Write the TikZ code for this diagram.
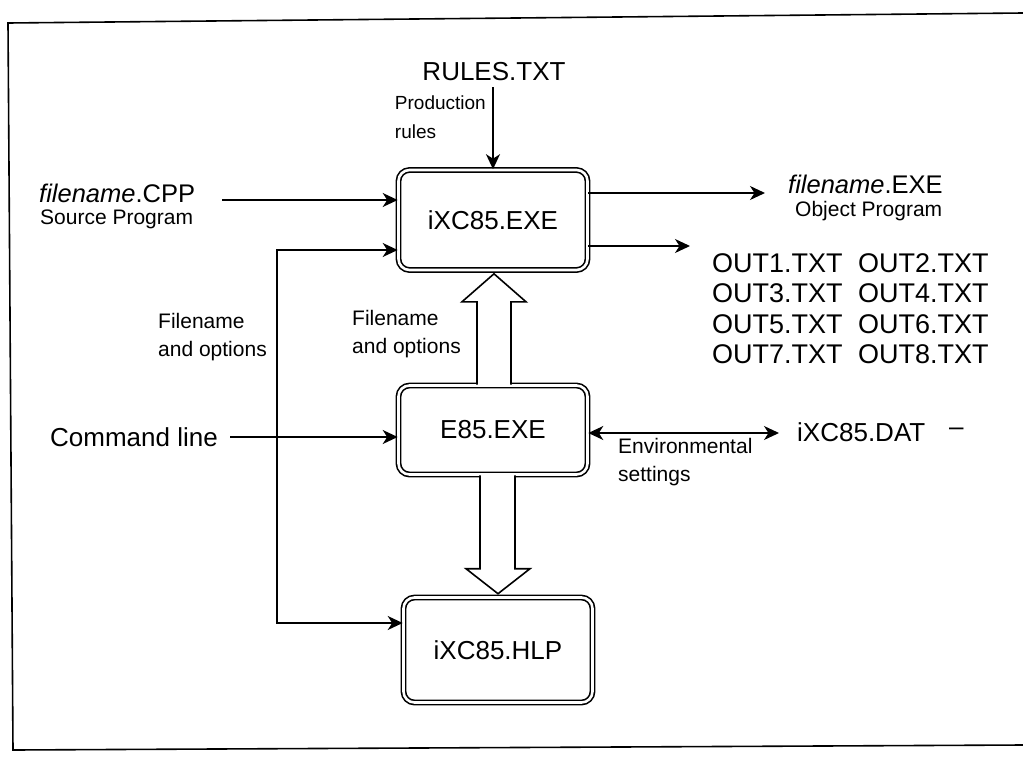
\documentclass[tikz,border=0pt]{standalone}
\usepackage{fontspec}
\setmainfont{Liberation Sans}
\usetikzlibrary{arrows.meta,calc}
\begin{document}
\begin{tikzpicture}[x=1pt,y=-1pt,
  tip/.tip={Stealth[length=15pt,width=14pt,inset=4.5pt]},
  arr/.style={line width=1.6pt,-tip},
  darr/.style={line width=1.6pt,tip-tip},
  box/.style={draw,double,line width=1.6pt,double distance=2.6pt,rounded corners=11pt,minimum width=189pt,font=\fontsize{26}{30}\selectfont,inner sep=0pt},
  big/.style={font=\fontsize{26}{30}\selectfont,inner sep=0pt,anchor=west},
  med/.style={font=\fontsize{25.5}{30}\selectfont,inner sep=0pt,anchor=west},
  outf/.style={font=\fontsize{27}{30}\selectfont,inner sep=0pt,anchor=west},
  small/.style={font=\fontsize{21}{28}\selectfont,inner sep=0pt,align=left,anchor=west},
  block/.style={draw,line width=1.6pt,fill=white,line join=miter}
]
\useasboundingbox (0,0) rectangle (1023,758);
% frame
\draw[line width=1.6pt] (1023,13) -- (8,23) -- (13,750) -- (1023,745);

% boxes
\node[box,minimum height=100pt] (exe) at (493,220) {iXC85.EXE};
\node[box,minimum height=89pt] (e85) at (493,430) {E85.EXE};
\node[box,minimum height=105pt] (hlp) at (498,650) {iXC85.HLP};

% rules
\node[big,anchor=center] (rules) at (494,72) {RULES.TXT};
\node[font=\fontsize{19}{29}\selectfont,inner sep=0pt,align=left,anchor=north east] (prod) at (486,96) {Production\\rules};
\draw[arr] (rules.south -| exe.north) ++(0,6) coordinate (rtop) -- (rtop |- exe.north);

% source program
\node[med] (cpp) at (39,193) {\textit{filename}.CPP};
\node[small] (src) at (40,219) {Source Program};
\coordinate (cppend) at (222,200);
\draw[arr] (cppend) -- (cppend -| exe.west);

% object program
\coordinate (objend) at (765,193);
\draw[arr] (objend -| exe.east) -- (objend);
\node[med] (obj) at (788,184) {\textit{filename}.EXE};
\node[small] (objp) at (795,211) {Object Program};
\coordinate (outend) at (690,246);
\draw[arr] (outend -| exe.east) -- (outend);

% output files
\node[outf] (o1) at (712,263) {OUT1.TXT};
\node[outf] (o2) at (858,263) {OUT2.TXT};
\node[outf] (o3) at (712,293) {OUT3.TXT};
\node[outf] (o4) at (858,293) {OUT4.TXT};
\node[outf] (o5) at (712,324) {OUT5.TXT};
\node[outf] (o6) at (858,324) {OUT6.TXT};
\node[outf] (o7) at (712,354) {OUT7.TXT};
\node[outf] (o8) at (858,354) {OUT8.TXT};

% loop
\coordinate (lt) at (277,250);
\coordinate (lb) at (277,623);
\draw[arr] (lb) -- (lt) -- (lt -| exe.west);
\draw[arr] (lt) -- (lb) -- (lb -| hlp.west);
\node[small] (fo1) at (158,337) {Filename\\and options};

% command line
\node[big] (cmd) at (50,437) {Command line};
\coordinate (cmdend) at (230,437);
\draw[arr] (cmdend) -- (cmdend -| e85.west);

% hollow arrow up
\draw[block] ($(e85.north)+(-16,0)$) -- ($(exe.south)+(-16,31)$) -- ($(exe.south)+(-31,31)$)
  -- ($(exe.south)+(1,3)$) -- ($(exe.south)+(33,31)$) -- ($(exe.south)+(18,31)$)
  -- ($(e85.north)+(18,0)$);
\node[small] (fo2) at (352,334) {Filename\\and options};

% hollow arrow down
\draw[block] ($(e85.south -| hlp.north)+(-18,0)$) -- ($(hlp.north)+(-18,-28)$) -- ($(hlp.north)+(-32,-28)$)
  -- ($(hlp.north)+(0,-3)$) -- ($(hlp.north)+(32,-28)$) -- ($(hlp.north)+(17,-28)$)
  -- ($(e85.south -| hlp.north)+(17,0)$);

% environmental settings
\node[big] (dat) at (797,432) {iXC85.DAT};
\node[big] (dash) at (949,432) {–};
\coordinate (datend) at (779,433);
\draw[darr] (datend -| e85.east) -- (datend);
\node[small] (env) at (618,462) {Environmental\\settings};
\end{tikzpicture}
\end{document}
